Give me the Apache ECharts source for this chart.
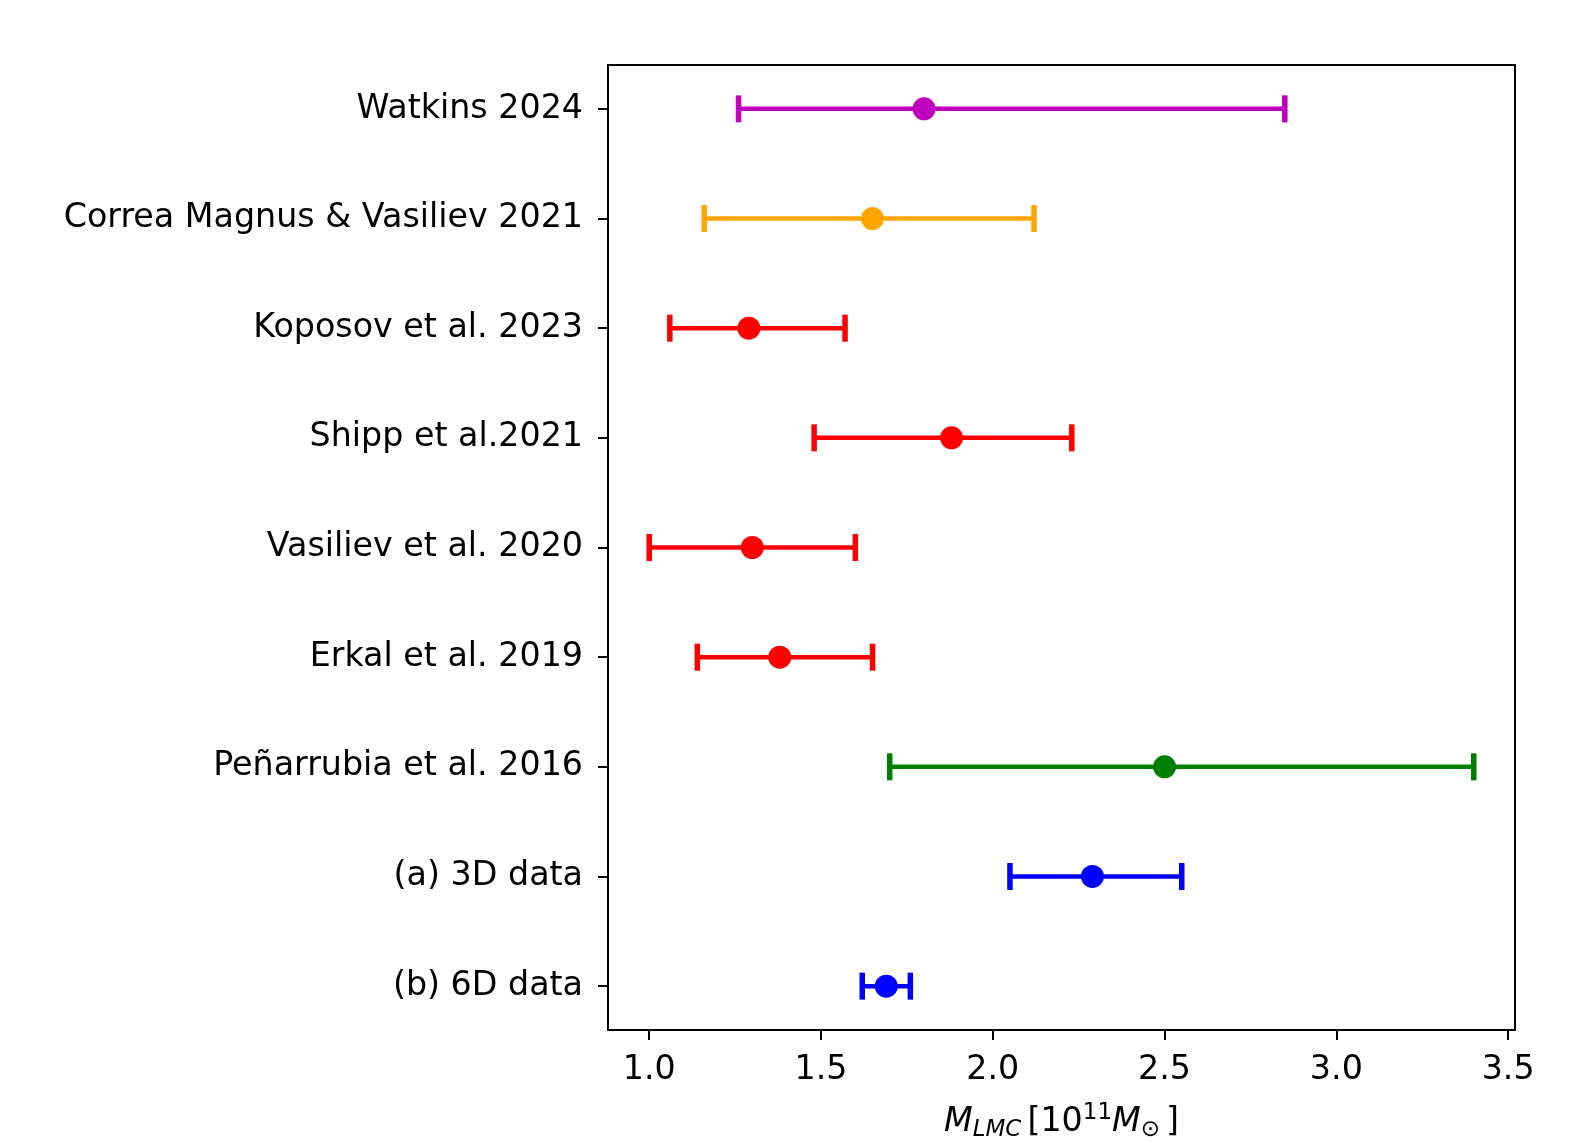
<!DOCTYPE html>
<html>
<head>
<meta charset="utf-8">
<script src="https://cdn.jsdelivr.net/npm/echarts@6/dist/echarts.min.js"></script>
<style>html,body{margin:0;padding:0;background:#fff}#c{width:1571px;height:1143px}</style>
</head>
<body>
<div id="c"></div>
<script>
const names = ["Watkins 2024","Correa Magnus & Vasiliev 2021","Koposov et al. 2023","Shipp et al.2021","Vasiliev et al. 2020","Erkal et al. 2019","Peñarrubia et al. 2016","(a) 3D data","(b) 6D data"];
const centers = [1.80, 1.65, 1.29, 1.88, 1.30, 1.38, 2.50, 2.29, 1.69];
const lowers  = [1.26, 1.16, 1.06, 1.48, 1.00, 1.14, 1.70, 2.05, 1.62];
const uppers  = [2.85, 2.12, 1.57, 2.23, 1.60, 1.65, 3.40, 2.55, 1.76];
const xTicks = [1.0, 1.5, 2.0, 2.5, 3.0, 3.5];
const rowColors = ["#bf00bf","#ffa500","#ff0000","#ff0000","#ff0000","#ff0000","#008000","#0000ff","#0000ff"];

const data = names.map((n, i) => [i, centers[i], lowers[i], uppers[i]]);
const FONT = "'DejaVu Sans', sans-serif";

const chart = echarts.init(document.getElementById('c'), null, {renderer: 'canvas'});
chart.setOption({
  animation: false,
  backgroundColor: '#fff',
  grid: {left: 608, right: 56, top: 65, bottom: 113, outerBoundsMode: 'none', containLabel: false, show: true, borderColor: '#000', borderWidth: 2, backgroundColor: 'transparent'},
  xAxis: {
    type: 'value', min: 0.88, max: 3.52,
    axisLine: {show: true, onZero: false, lineStyle: {color: '#000', width: 2}},
    axisTick: {show: true, length: 10, lineStyle: {color: '#000', width: 2}, customValues: xTicks},
    axisLabel: {customValues: xTicks, formatter: v => v.toFixed(1), color: '#000', fontSize: 33.3, fontFamily: FONT, margin: 24},
    splitLine: {show: false},
    name: '{mi|M}{sub|LMC}{n|[10}{sup|11}{mi|M}{sub|⊙}{n|]}',
    nameLocation: 'middle', nameGap: 72,
    nameTextStyle: {
      color: '#000', fontFamily: FONT, fontSize: 33,
      rich: {
        mi: {fontStyle: 'italic', fontSize: 33.3, fontFamily: FONT, color: '#000', lineHeight: 40},
        n: {fontSize: 33.3, fontFamily: FONT, color: '#000', lineHeight: 40},
        sub: {fontStyle: 'italic', fontSize: 23, fontFamily: FONT, color: '#000', verticalAlign: 'bottom', lineHeight: 40, padding: [14, 6, 0, 0]},
        sup: {fontSize: 23, fontFamily: FONT, color: '#000', verticalAlign: 'top', lineHeight: 40, padding: [0, 0, 14, 0]}
      }
    }
  },
  yAxis: {
    type: 'value', inverse: true, min: -0.4, max: 8.4,
    axisLine: {show: true, onZero: false, lineStyle: {color: '#000', width: 2}},
    axisTick: {show: true, length: 10, lineStyle: {color: '#000', width: 2}, customValues: names.map((n, i) => i)},
    axisLabel: {customValues: names.map((n, i) => i), formatter: v => names[Math.round(v)], color: '#000', fontSize: 33.3, fontFamily: FONT, margin: 25},
    splitLine: {show: false}
  },
  series: [{
    type: 'custom',
    data: data,
    encode: {x: [1, 2, 3], y: 0},
    renderItem: function (params, api) {
      const i = api.value(0);
      const c = api.coord([api.value(1), i]);
      const lo = api.coord([api.value(2), i]);
      const hi = api.coord([api.value(3), i]);
      const col = rowColors[i];
      const capH = 13.5;
      return {
        type: 'group',
        children: [
          {type: 'line', shape: {x1: lo[0], y1: lo[1], x2: hi[0], y2: hi[1]}, style: {stroke: col, lineWidth: 4.5}},
          {type: 'line', shape: {x1: lo[0], y1: lo[1] - capH, x2: lo[0], y2: lo[1] + capH}, style: {stroke: col, lineWidth: 5.5}},
          {type: 'line', shape: {x1: hi[0], y1: hi[1] - capH, x2: hi[0], y2: hi[1] + capH}, style: {stroke: col, lineWidth: 5.5}},
          {type: 'circle', shape: {cx: c[0], cy: c[1], r: 11.5}, style: {fill: col}}
        ]
      };
    }
  }]
});
</script>
</body>
</html>
